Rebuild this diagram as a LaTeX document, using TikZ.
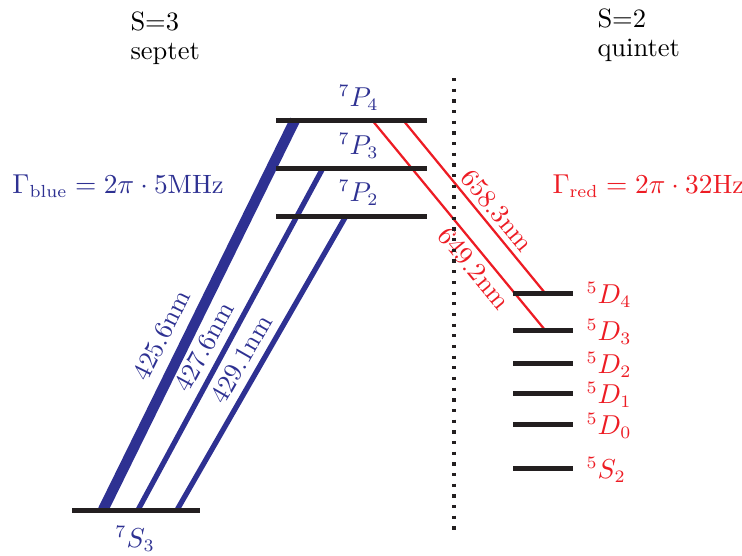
\documentclass[tikz,border=0pt]{standalone}
\usepackage{amsmath}
\definecolor{cblue}{RGB}{46,49,146}
\definecolor{cred}{RGB}{237,28,36}
\definecolor{cbar}{RGB}{35,31,32}
\begin{document}
\begin{tikzpicture}[x=0.4pt,y=-0.4pt,
  every node/.style={font=\fontsize{10.6}{12.7}\selectfont},
  level/.style={draw=cbar,line width=2pt},
  bluetr/.style={draw=cblue,line width=2.1pt},
  bluethick/.style={draw=cblue,line width=4.2pt},
  redtr/.style={draw=cred,line width=0.9pt},
  bluelab/.style={text=cblue,inner sep=1pt},
  redlab/.style={text=cred,inner sep=1pt},
  plain/.style={inner sep=0pt,anchor=base west}]
\useasboundingbox (0,0) rectangle (742,555);
% level end points
\coordinate (p4l) at (276,120); \coordinate (p4r) at (427,120);
\coordinate (p3l) at (276,168); \coordinate (p3r) at (427,168);
\coordinate (p2l) at (276,216); \coordinate (p2r) at (427,216);
\coordinate (s3l) at (72,510);  \coordinate (s3r) at (200,510);
\foreach \n/\y in {d4/293,d3/330,d2/363,d1/393,d0/424,s2/468}{
  \coordinate (\n l) at (513,\y); \coordinate (\n r) at (573,\y);}
% transitions
\coordinate (b1s) at (103,510); \coordinate (b1e) at (295,120);
\coordinate (b2s) at (138,510); \coordinate (b2e) at (323,168);
\coordinate (b3s) at (177,510); \coordinate (b3e) at (346,216);
\coordinate (r1s) at (403,120); \coordinate (r1e) at (545,293);
\coordinate (r2s) at (372,120); \coordinate (r2e) at (545,330);
\draw[bluethick] (b1s) -- node[bluelab,sloped,above=3pt,pos=0.42] (l1) {425.6nm} (b1e);
\draw[bluetr] (b2s) -- node[bluelab,sloped,above=2pt,pos=0.45] (l2) {427.6nm} (b2e);
\draw[bluetr] (b3s) -- node[bluelab,sloped,above=2pt,pos=0.48] (l3) {429.1nm} (b3e);
\draw[redtr] (r1s) -- node[redlab,sloped,above=1pt,pos=0.58] (l4) {658.3nm} (r1e);
\draw[redtr] (r2s) -- node[redlab,sloped,below=1pt,pos=0.66] (l5) {649.2nm} (r2e);
% levels
\draw[level] (p4l) -- (p4r);
\draw[level] (p3l) -- (p3r);
\draw[level] (p2l) -- (p2r);
\draw[level] (s3l) -- (s3r);
\foreach \n in {d4,d3,d2,d1,d0,s2}{\draw[level] (\n l) -- (\n r);}
% dotted separator
\coordinate (dt) at (454,78); \coordinate (db) at (454,537);
\draw[cbar,line width=1.3pt,dash pattern=on 1.3pt off 2.97pt] (dt) -- (db);
% texts
\node[plain] (s3t) at (130,30) {S=3};
\node[plain] (sep) at (130,59) {septet};
\node[plain] (s2t) at (597,27) {S=2};
\node[plain] (qui) at (597,56) {quintet};
\node[plain,text=cblue] (gb) at (12,193) {$\Gamma_{\rm blue}=2\pi\cdot5$MHz};
\node[plain,text=cred] (gr) at (552,193) {$\Gamma_{\rm red}=2\pi\cdot32$Hz};
\node[plain,text=cblue] (tp4) at (338,106) {${}^7P_4$};
\node[plain,text=cblue] (tp3) at (338,154) {${}^7P_3$};
\node[plain,text=cblue] (tp2) at (338,201) {${}^7P_2$};
\node[plain,text=cblue] (ts3) at (115,547) {${}^7S_3$};
\node[plain,text=cred] (td4) at (586,303) {${}^5D_4$};
\node[plain,text=cred] (td3) at (586,340) {${}^5D_3$};
\node[plain,text=cred] (td2) at (586,373) {${}^5D_2$};
\node[plain,text=cred] (td1) at (586,403) {${}^5D_1$};
\node[plain,text=cred] (td0) at (586,434) {${}^5D_0$};
\node[plain,text=cred] (ts2) at (586,478) {${}^5S_2$};
\end{tikzpicture}
\end{document}
